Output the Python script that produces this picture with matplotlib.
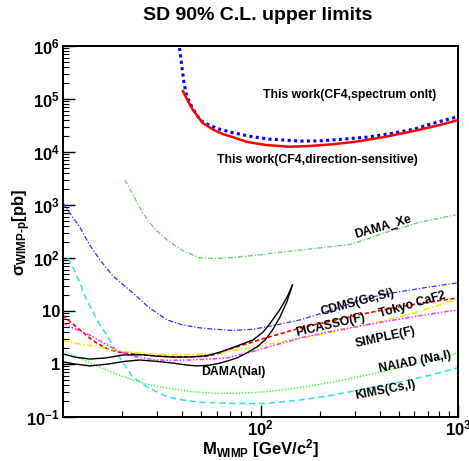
import matplotlib
matplotlib.use('Agg')
import matplotlib.pyplot as plt
from matplotlib.ticker import FixedLocator, FixedFormatter, LogLocator, NullFormatter

plt.rcParams['font.family'] = ['Liberation Sans', 'DejaVu Sans']
plt.rcParams['font.weight'] = 'bold'
plt.rcParams['mathtext.fontset'] = 'custom'
plt.rcParams['mathtext.rm'] = 'Liberation Sans:bold'
plt.rcParams['mathtext.bf'] = 'Liberation Sans:bold'
plt.rcParams['mathtext.it'] = 'Liberation Sans:bold'
plt.rcParams['mathtext.default'] = 'bf'

# --- limit curves (mass in GeV/c^2, cross section in pb) ---
spec_x = [38.5, 39.3, 40, 41, 42.4, 45, 49.4, 55, 62, 72.6, 90, 110, 130, 158, 200, 250, 345, 450, 600, 750, 990]
spec_y = [1.2e6, 7e5, 4e5, 2e5, 1.1e5, 7e4, 4e4, 3.2e4, 2.7e4, 2.3e4, 1.95e4, 1.75e4, 1.68e4, 1.6e4, 1.62e4, 1.72e4, 1.9e4, 2.2e4, 2.7e4, 3.5e4, 4.6e4]

dir_x = [40.5, 43, 45.5, 51, 58, 65, 72.6, 85, 107, 141, 180, 233, 300, 418, 600, 800, 1000]
dir_y = [1.4e5, 9e4, 6.2e4, 3.5e4, 2.6e4, 2.15e4, 1.9e4, 1.55e4, 1.35e4, 1.25e4, 1.3e4, 1.4e4, 1.55e4, 1.9e4, 2.5e4, 3.2e4, 4e4]

xe_x = [20.6, 23, 25.4, 29, 33.6, 40, 49.4, 60, 72.6, 100, 130, 200, 283, 350, 418, 520, 620, 800, 970]
xe_y = [3000, 1400, 700, 360, 220, 140, 100, 98, 102, 115, 130, 155, 180, 230, 295, 370, 460, 560, 650]

cdms_x = [10, 11, 12.2, 13.5, 15.4, 18, 22.6, 27, 33.6, 40, 49.4, 60, 72.6, 90, 107, 159, 230, 345, 500, 700, 990]
cdms_y = [1100, 650, 380, 190, 92, 45, 22, 12, 6.8, 5.5, 4.8, 4.5, 4.3, 4.5, 5.0, 6.8, 10.5, 17.6, 23, 28, 34]

kims_x = [10.6, 11.4, 12.2, 13.2, 15, 17.3, 20, 22.6, 27, 33.6, 40, 49.4, 72.6, 107, 160, 233, 350, 510, 700, 990]
kims_y = [100, 60, 34, 16, 6.5, 2.8, 1.1, 0.57, 0.36, 0.24, 0.21, 0.19, 0.18, 0.18, 0.21, 0.26, 0.35, 0.46, 0.6, 0.84]

naiad_x = [10, 12, 15.4, 18.5, 22.6, 27, 33.6, 45, 60, 80, 107, 160, 233, 350, 510, 700, 990]
naiad_y = [1.8, 1.3, 0.87, 0.65, 0.5, 0.41, 0.35, 0.3, 0.28, 0.28, 0.3, 0.36, 0.46, 0.62, 0.87, 1.15, 1.6]

pic_x = [10, 11, 12.2, 13.5, 14.8, 16.5, 18.8, 21.5, 24.5, 30, 36, 45, 53.5, 62, 72.6, 100, 159, 233, 345, 500, 700, 990]
pic_y = [8.3, 6.0, 4.4, 3.2, 2.5, 2.0, 1.7, 1.58, 1.5, 1.42, 1.37, 1.37, 1.4, 1.6, 2.0, 2.9, 4.8, 6.6, 9.1, 12, 14.5, 17.6]

tokyo_x = [10, 12, 15.4, 19, 24.5, 32, 40.5, 50, 60, 80, 107, 160, 233, 350, 510, 700, 990]
tokyo_y = [2.8, 2.4, 2.1, 1.8, 1.6, 1.52, 1.5, 1.52, 1.6, 1.9, 2.3, 3.1, 4.0, 5.6, 7.8, 11, 17]

simple_x = [10, 11, 12.2, 13.7, 15.5, 18.8, 22, 26, 30, 36, 44, 55, 67.6, 85, 110, 159, 233, 345, 500, 700, 990]
simple_y = [5.9, 5.0, 4.2, 3.5, 2.7, 1.8, 1.45, 1.28, 1.19, 1.17, 1.19, 1.24, 1.3, 1.6, 2.1, 3.1, 4.2, 5.5, 7.0, 8.6, 10.5]

dama_out_x = [10, 11.5, 13.7, 16.5, 20.1, 25, 30, 37, 44, 50, 55.5, 63, 70, 78.8, 91.5, 103, 112, 125, 137, 145]
dama_out_y = [1.55, 1.35, 1.24, 1.3, 1.48, 1.5, 1.4, 1.35, 1.36, 1.4, 1.48, 1.7, 1.95, 2.3, 2.84, 4.0, 5.9, 10.5, 19, 31]
dama_in_x = [10, 11.5, 13.7, 17, 20.5, 24.5, 30, 36, 42, 47.6, 55, 62.5, 70, 76, 86, 96, 106, 115, 125, 136, 145]
dama_in_y = [1.1, 1.0, 0.92, 1.0, 1.12, 1.19, 1.12, 1.04, 0.96, 0.92, 0.95, 1.04, 1.18, 1.3, 1.65, 2.1, 2.9, 4.4, 7.5, 15, 31]

# --- labels: text, x, y, rotation ---
labels = [
    ('This work(CF4,spectrum onlt)', 281, 1.19e5, 0),
    ('This work(CF4,direction-sensitive)', 195, 7.06e3, 0),
    ('DAMA_Xe', 417, 385, 16),
    ('CDMS(Ge,Si)', 308, 14.8, 15),
    ('Tokyo CaF2', 585, 13.0, 16),
    ('PICASSO(F)', 225, 5.45, 13),
    ('SIMPLE(F)', 427, 3.23, 12.5),
    ('NAIAD (Na,I)', 605, 1.09, 11),
    ('KIMS(Cs,I)', 427, 0.324, 11),
    ('DAMA(NaI)', 72.6, 0.706, 0),
]

ytick_vals = [0.1, 1, 10, 100, 1e3, 1e4, 1e5, 1e6]
ytick_text = [r'$10^{-1}$', '1', '10', r'$10^{2}$', r'$10^{3}$', r'$10^{4}$', r'$10^{5}$', r'$10^{6}$']
xtick_vals = [100, 1000]
xtick_text = [r'$10^{2}$', r'$10^{3}$']

fig = plt.figure(figsize=(4.69, 4.61), dpi=100)
ax = fig.add_axes([0.134, 0.0954, 0.843, 0.805])

ax.plot(spec_x, spec_y, color='#0000ff', lw=2.2, ls=(0, (1, 1.1)))
ax.plot(dir_x, dir_y, color='#ff0000', lw=1.8)
ax.plot(xe_x, xe_y, color='#66cc66', lw=0.9, ls=(0, (4, 1.5, 1, 1.5)))
ax.plot(cdms_x, cdms_y, color='#3333ff', lw=0.9, ls=(0, (4, 1.5, 1, 1.5)))
ax.plot(kims_x, kims_y, color='#33e0e0', lw=1.1, ls=(0, (4, 2.5)))
ax.plot(naiad_x, naiad_y, color='#33ff33', lw=1.0, ls=(0, (1, 1.2)))
ax.plot(pic_x, pic_y, color='#ff0000', lw=1.2, ls=(0, (2.5, 1.5)))
ax.plot(tokyo_x, tokyo_y, color='#eeee00', lw=1.1, ls=(0, (4, 1.5, 1, 1.5)))
ax.plot(simple_x, simple_y, color='#ff33ff', lw=1.1, ls=(0, (3, 1.2, 1, 1.2, 1, 1.2)))
ax.plot(dama_out_x, dama_out_y, color='black', lw=1.0)
ax.plot(dama_in_x, dama_in_y, color='black', lw=1.0)

ax.set_xscale('log')
ax.set_yscale('log')
ax.set_xlim(10, 1000)
ax.set_ylim(0.1, 1e6)

ax.yaxis.set_major_locator(FixedLocator(ytick_vals))
ax.yaxis.set_major_formatter(FixedFormatter(ytick_text))
ax.xaxis.set_major_locator(FixedLocator(xtick_vals))
ax.xaxis.set_major_formatter(FixedFormatter(xtick_text))
ax.xaxis.set_minor_locator(LogLocator(base=10, subs=range(2, 10), numticks=20))
ax.yaxis.set_minor_locator(LogLocator(base=10, subs=range(2, 10), numticks=20))
ax.xaxis.set_minor_formatter(NullFormatter())
ax.yaxis.set_minor_formatter(NullFormatter())
ax.tick_params(which='major', direction='in', length=8.5, width=1.0, labelsize=12, top=False, right=False, pad=2)
ax.tick_params(which='minor', direction='in', length=4.5, width=0.8, top=False, right=False)
ax.tick_params(axis='x', which='major', pad=1)
for s in ax.spines.values():
    s.set_linewidth(1.4)

for txt, lx, ly, rot in labels:
    ax.text(lx, ly, txt, fontsize=8.8, fontweight='bold', ha='center', va='center',
            rotation=rot, rotation_mode='anchor')

fig.text(0.55, 0.967, 'SD 90% C.L. upper limits', fontsize=14, fontweight='bold', ha='center', va='center')
fig.text(0.555, 0.026, r'$M_{WIMP}$ [GeV/c$^{2}$]', fontsize=12, fontweight='bold', ha='center', va='center')
fig.text(0.046, 0.495, r'$\sigma_{WIMP\text{-}p}$[pb]', fontsize=12, fontweight='bold', ha='center', va='center',
         rotation=90)

fig.savefig('out.png', dpi=100)
